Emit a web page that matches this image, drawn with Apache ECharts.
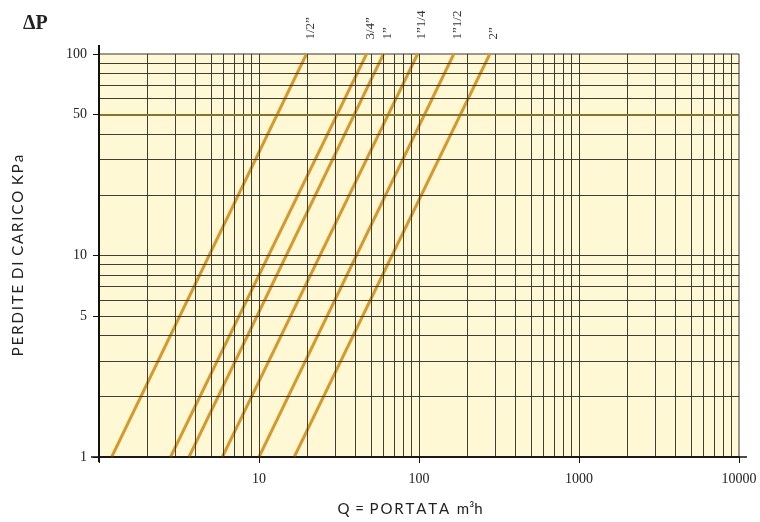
<!DOCTYPE html>
<html>
<head>
<meta charset="utf-8">
<script src="https://cdn.jsdelivr.net/npm/echarts@6/dist/echarts.min.js"></script>
<style>
  html, body { margin: 0; padding: 0; background: #fff; }
  #chart { width: 760px; height: 522px; }
</style>
</head>
<body>
<div id="chart"></div>
<script>
// pipe sizes and the flow (m3/h) where each curve crosses dP = 1 and dP = 100 kPa
const pipeSizes = ['1/2”', '3/4”', '1”', '1”1/4', '1”1/2', '2”']
const flowAtLow = [1.2, 2.8, 3.65, 5.9, 10, 16.6]
const flowAtHigh = [19.8, 47, 60, 98, 165, 277]
const dpLow = 1
const dpHigh = 100

// tick labels
const xLabels = [10, 100, 1000, 10000]
const xTicks = [1, 10, 100, 1000, 10000]
const yLabels = [1, 5, 10, 50, 100]

// log paper grid
const xGrid = [2, 3, 4, 5, 6, 7, 8, 9, 10,
  20, 30, 40, 50, 60, 70, 80, 90, 100,
  200, 300, 400, 500, 600, 700, 800, 900, 1000,
  2000, 3000, 4000, 5000, 6000, 7000, 8000, 9000]
const yGrid = [2, 3, 4, 5, 6, 7, 8, 9, 10, 20, 30, 40, 60, 70, 80, 90]
const yHighlight = [50]

const serif = '"Liberation Serif", "DejaVu Serif", serif'
const sans = 'Lato, "Open Sans", sans-serif'
const lineColor = '#d69a2c'
const gridColor = '#35342e'
const axisColor = '#111'

const chart = echarts.init(document.getElementById('chart'))

const gridSeries = {
  type: 'scatter',
  z: 1,
  silent: true,
  symbolSize: 0,
  data: [[1, 1]],
  markLine: {
    silent: true,
    symbol: ['none', 'none'],
    label: { show: false },
    animation: false,
    lineStyle: { color: gridColor, width: 1, type: 'solid', opacity: 0.95 },
    emphasis: { disabled: true },
    data: xGrid.map(v => ({ xAxis: v }))
      .concat(yGrid.map(v => ({ yAxis: v })))
      .concat(yHighlight.map(v => ({ yAxis: v, lineStyle: { color: '#86742c', width: 2, opacity: 1 } })))
  }
}

const pipeSeries = pipeSizes.map((name, i) => ({
  name: name,
  type: 'line',
  z: 3,
  data: [
    [flowAtLow[i], dpLow],
    { value: [flowAtHigh[i], dpHigh], label: { show: true } }
  ],
  symbol: 'circle',
  symbolSize: 1,
  showSymbol: true,
  clip: false,
  lineStyle: { color: lineColor, width: 3 },
  itemStyle: { color: lineColor },
  label: {
    show: false,
    formatter: name,
    position: 'top',
    distance: 14,
    offset: [0, 4],
    rotate: 90,
    align: 'left',
    verticalAlign: 'middle',
    fontFamily: serif,
    fontSize: 13,
    color: '#333'
  },
  emphasis: { disabled: true }
}))

chart.setOption({
  animation: false,
  title: {
    text: 'ΔP',
    left: 18,
    top: 9,
    textStyle: { fontFamily: serif, fontWeight: 'bold', fontSize: 20, color: '#222' }
  },
  grid: {
    left: 99,
    right: 21,
    top: 54,
    bottom: 65,
    outerBoundsMode: 'none',
    containLabel: false,
    show: true,
    backgroundColor: '#fff8d4',
    borderColor: gridColor,
    borderWidth: 1
  },
  xAxis: {
    type: 'log',
    logBase: 10,
    min: 1,
    max: 10000,
    name: 'Q\u2009 = \u2009P\u2009O\u2009R\u2009T\u2009A\u2009T\u2009A\u2009 \u2009m³h',
    nameLocation: 'middle',
    nameGap: 45,
    nameTextStyle: { fontFamily: sans, fontSize: 15, color: '#222', padding: [0, 18, 0, 0] },
    axisLine: { lineStyle: { color: axisColor, width: 1.5 } },
    axisTick: { show: true, length: 6, customValues: xTicks, lineStyle: { color: axisColor } },
    axisLabel: {
      customValues: xLabels,
      margin: 15,
      formatter: v => String(v),
      fontFamily: serif,
      fontSize: 14,
      color: '#222'
    },
    splitLine: { show: false },
    minorTick: { show: false }
  },
  yAxis: {
    type: 'log',
    logBase: 10,
    min: 1,
    max: 100,
    name: 'P\u2009E\u2009R\u2009D\u2009I\u2009T\u2009E\u2009 D\u2009I\u2009 C\u2009A\u2009R\u2009I\u2009C\u2009O\u2009 K\u2009P\u2009a',
    nameLocation: 'middle',
    nameGap: 73,
    nameTextStyle: { fontFamily: sans, fontSize: 15, color: '#222' },
    axisLine: { show: true, lineStyle: { color: axisColor, width: 2 } },
    axisTick: { show: true, length: 6, customValues: yLabels, lineStyle: { color: axisColor } },
    axisLabel: {
      customValues: yLabels,
      margin: 12,
      formatter: v => String(v),
      fontFamily: serif,
      fontSize: 14,
      color: '#222'
    },
    splitLine: { show: false }
  },
  series: [gridSeries].concat(pipeSeries)
})

// axis lines run a little past the plot edges, as on the printed chart
const corner = chart.convertToPixel({ gridIndex: 0 }, [1, 1])
const far = chart.convertToPixel({ gridIndex: 0 }, [10000, 100])
chart.setOption({
  graphic: [
    { type: 'line', silent: true, z: 10, shape: { x1: corner[0], y1: far[1] - 9, x2: corner[0], y2: corner[1] + 5 }, style: { stroke: axisColor, lineWidth: 2 } },
    { type: 'line', silent: true, z: 10, shape: { x1: corner[0] - 8, y1: corner[1], x2: far[0] + 8, y2: corner[1] }, style: { stroke: axisColor, lineWidth: 1.5 } }
  ]
})
</script>
</body>
</html>
